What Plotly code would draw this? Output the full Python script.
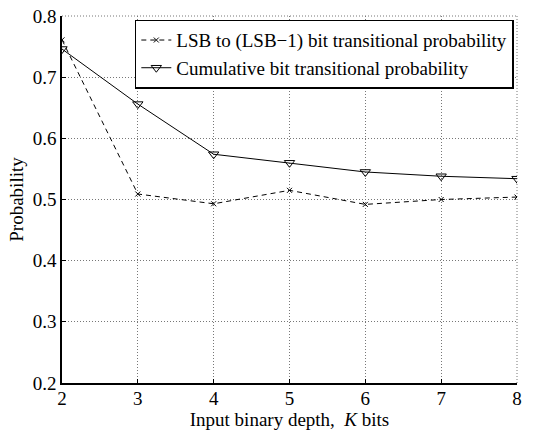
import plotly.graph_objects as go

k_bits = [2, 3, 4, 5, 6, 7, 8]
lsb_prob = [0.761, 0.509, 0.493, 0.515, 0.492, 0.500, 0.504]
cum_prob = [0.746, 0.656, 0.574, 0.560, 0.545, 0.538, 0.534]
x_ticks = [2, 3, 4, 5, 6, 7, 8]
y_ticks = [0.2, 0.3, 0.4, 0.5, 0.6, 0.7, 0.8]

FONT = "Liberation Serif"
FS = 19
GRID = "#777777"
GDASH = "1px,2px"

fig = go.Figure()
fig.add_trace(go.Scatter(
    x=k_bits, y=lsb_prob, mode="lines+markers",
    name="LSB to (LSB\u22121) bit transitional probability",
    line=dict(color="black", width=1, dash="5px,4px"),
    marker=dict(symbol="x-thin", size=5, color="black", line=dict(color="black", width=1)),
))
fig.add_trace(go.Scatter(
    x=k_bits, y=cum_prob, mode="lines+markers",
    name="Cumulative bit transitional probability",
    line=dict(color="black", width=1),
    marker=dict(symbol="triangle-down-open", size=9, color="black", line=dict(color="black", width=1)),
))

fig.update_layout(
    width=534, height=431,
    margin=dict(l=62, r=17, t=16, b=48, autoexpand=False),
    paper_bgcolor="white", plot_bgcolor="white",
    font=dict(family=FONT, size=FS, color="black"),
    showlegend=True,
    legend=dict(
        x=0.993, y=0.99, xanchor="right", yanchor="top",
        bgcolor="white", bordercolor="black", borderwidth=1.5,
        font=dict(family=FONT, size=FS),
        tracegroupgap=0, itemwidth=30,
    ),
    shapes=[
        dict(type="line", xref="paper", yref="paper", x0=0, x1=1, y0=1, y1=1,
             line=dict(color=GRID, width=1, dash=GDASH), layer="below"),
        dict(type="line", xref="paper", yref="paper", x0=1, x1=1, y0=0, y1=1,
             line=dict(color=GRID, width=1, dash=GDASH), layer="below"),
    ],
)
fig.update_xaxes(
    range=[2, 8], tickvals=x_ticks, ticktext=[str(v) for v in x_ticks],
    showline=True, linecolor="black", linewidth=1.5,
    ticks="inside", ticklen=4, tickcolor="black",
    showgrid=True, gridcolor=GRID, griddash=GDASH, gridwidth=1,
    zeroline=False, automargin=False, ticklabeloverflow="allow",
    ticklabelstandoff=-3,
    title=dict(text="Input binary depth,  <i>K</i> bits", font=dict(family=FONT, size=FS), standoff=0),
    tickfont=dict(family=FONT, size=FS),
)
fig.update_yaxes(
    range=[0.2, 0.8], tickvals=y_ticks, ticktext=["%.1f" % v for v in y_ticks],
    showline=True, linecolor="black", linewidth=1.5,
    ticks="inside", ticklen=4, tickcolor="black",
    showgrid=True, gridcolor=GRID, griddash=GDASH, gridwidth=1,
    zeroline=False, automargin=False, ticklabeloverflow="allow",
    title=dict(text="Probability", font=dict(family=FONT, size=FS), standoff=4),
    tickfont=dict(family=FONT, size=FS),
)

fig.write_html(
    "out.html",
    config={"displayModeBar": False},
    post_script="document.body.style.margin='0';document.body.style.overflow='hidden';",
)
